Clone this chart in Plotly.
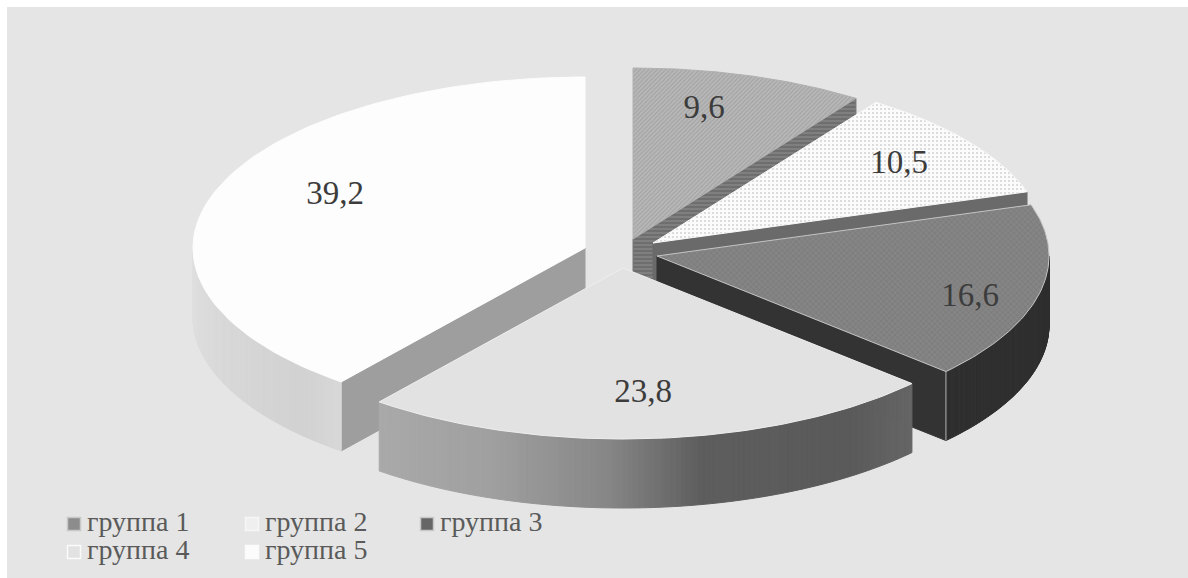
import numpy as np
import plotly.graph_objects as go

# Data
groups = ["группа 1", "группа 2", "группа 3", "группа 4", "группа 5"]
values = [9.6, 10.5, 16.6, 23.8, 39.2]

# Styling / placement (pixel-like axis units)
centers_x = [633, 653, 657, 623, 585]
centers_y = [239, 243, 256, 268, 248]
RX, RY, DEPTH = 392, 171, 69
draw_order = [0, 1, 2, 4, 3]
top_colors = ["#b0b0b0", "#fafafa", "#7e7e7e", "#e2e2e2", "#fdfdfd"]
top_lines = [None, None, "#c4c4c4", "#eeeeee", None]
patterns = [
    dict(shape="/", size=3, solidity=0.35, fgcolor="#8a8a8a", bgcolor="#b8b8b8"),
    dict(shape=".", size=4, solidity=0.2, fgcolor="#a8a8a8", bgcolor="#fbfbfb"),
    dict(shape="x", size=4, solidity=0.25, fgcolor="#666666", bgcolor="#858585"),
    None, None,
]
wall_colors = ["#777777", "#6a6a6a", "#333333", "#9c9c9c", "#9e9e9e"]
wall_patterns = [
    dict(shape="-", size=4, solidity=0.4, fgcolor="#999999", bgcolor="#6e6e6e"),
    None, None, None, None,
]
rim_stops = {
    2: [(0, "#2f2f2f"), (1, "#2f2f2f")],
    3: [(0, "#666666"), (0.15, "#5a5a5a"), (0.42, "#5e5e5e"), (0.58, "#878787"),
        (0.78, "#a0a0a0"), (1, "#aaaaaa")],
    4: [(0, "#d8d8d8"), (0.15, "#d2d2d2"), (1, "#e0e0e0")],
}
label_x = [704, 899, 970, 643, 335]
label_y = [110, 165, 298, 394, 196]
legend_x = [74, 252, 427, 74, 252]
legend_y = [524, 524, 524, 552, 552]
legend_text_x = [87, 265, 440, 87, 265]
legend_colors = ["#8c8c8c", "#efefef", "#666666", "#e2e2e2", "#fbfbfb"]
legend_lines = ["#c8c8c8", "#f6f6f6", "#c8c8c8", "#fbfbfb", "#fbfbfb"]

total = sum(values)
edges = np.concatenate([[0], np.cumsum(values)]) / total * 2 * np.pi

def ex(i, t):
    return centers_x[i] + RX * np.sin(t)

def ey(i, t):
    return centers_y[i] - RY * np.cos(t)

def poly(fig, xs, ys, color, line=None, width=1, pattern=None):
    kw = dict(fillpattern=pattern) if pattern else {}
    fig.add_trace(go.Scatter(
        x=list(xs), y=list(ys), mode="lines", fill="toself", fillcolor=color,
        line=dict(color=line or color, width=width if line else 1),
        hoverinfo="skip", showlegend=False, **kw))

fig = go.Figure()
for i in draw_order:
    a, b = edges[i], edges[i + 1]
    cx, cy = centers_x[i], centers_y[i]
    # radial walls facing the viewer
    for t, facing in ((b, np.sin(b) > 0.01), (a, np.sin(a) < -0.01)):
        if facing:
            px, py = ex(i, t), ey(i, t)
            poly(fig, [cx, px, px, cx, cx], [cy, py, py + DEPTH, cy + DEPTH, cy],
                 wall_colors[i], pattern=wall_patterns[i])
    # outer rim (front half only)
    lo, hi = max(a, np.pi / 2), min(b, 3 * np.pi / 2)
    if hi > lo:
        n = 110
        ts = np.linspace(lo, hi, n + 1)
        stops = rim_stops[i]
        pos = [s[0] for s in stops]
        grey = [int(s[1][1:3], 16) for s in stops]
        for k in range(n):
            g = int(np.interp((k + 0.5) / n, pos, grey))
            col = f"rgb({g},{g},{g})"
            xx = ex(i, ts[k:k + 2])
            yy = ey(i, ts[k:k + 2])
            poly(fig, [xx[0], xx[1], xx[1], xx[0], xx[0]],
                 [yy[0], yy[1], yy[1] + DEPTH, yy[0] + DEPTH, yy[0]], col)
    # light corner edge of dark slice
    if top_lines[i] == "#c4c4c4":
        fig.add_trace(go.Scatter(x=[ex(i, b), ex(i, b)], y=[ey(i, b), ey(i, b) + DEPTH],
                                 mode="lines", line=dict(color="#b4b4b4", width=1),
                                 hoverinfo="skip", showlegend=False))
    # top face
    ts = np.linspace(a, b, 90)
    xs = np.concatenate([[cx], ex(i, ts), [cx]])
    ys = np.concatenate([[cy], ey(i, ts), [cy]])
    poly(fig, xs, ys, top_colors[i], line=top_lines[i], pattern=patterns[i])

# value labels
fig.add_trace(go.Scatter(
    x=label_x, y=label_y, mode="text",
    text=[f"{v}".replace(".", ",") for v in values],
    textfont=dict(family="Liberation Serif", size=33, color="#3c3c3c"),
    hoverinfo="skip", showlegend=False))

# legend key
fig.add_trace(go.Scatter(
    x=legend_x, y=legend_y, mode="markers",
    marker=dict(symbol="square", size=13, color=legend_colors,
                line=dict(color=legend_lines, width=1.5)),
    hoverinfo="skip", showlegend=False))
fig.add_trace(go.Scatter(
    x=legend_text_x, y=legend_y, mode="text", text=groups,
    textposition="middle right",
    textfont=dict(family="Liberation Serif", size=28, color="#5a5a5a"),
    hoverinfo="skip", showlegend=False))

fig.update_layout(
    width=1188, height=578, autosize=False,
    margin=dict(l=7, r=0, t=7, b=0),
    paper_bgcolor="#ffffff", plot_bgcolor="#e5e5e5",
    showlegend=False,
    xaxis=dict(range=[7, 1188], visible=False, fixedrange=True),
    yaxis=dict(range=[578, 7], visible=False, fixedrange=True),
)
fig.write_html("out.html", config=dict(displayModeBar=False),
               post_script="document.body.style.margin='0';")
